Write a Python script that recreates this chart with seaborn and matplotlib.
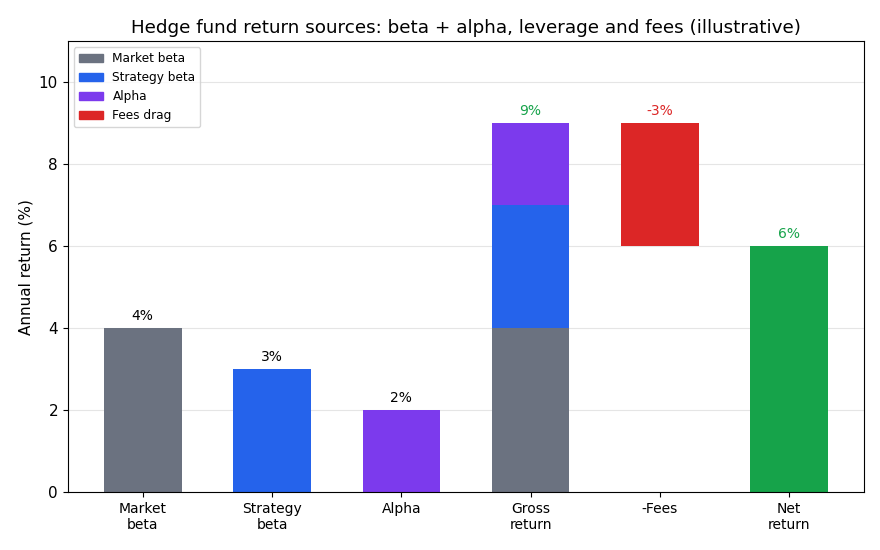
import numpy as np
import seaborn as sns
import matplotlib.pyplot as plt
from matplotlib.patches import Patch

categories = ['Market\nbeta', 'Strategy\nbeta', 'Alpha', 'Gross\nreturn', '-Fees', 'Net\nreturn']
market_beta = [4, 0, 0, 4, 0, 0]
strategy_beta = [0, 3, 0, 3, 0, 0]
alpha = [0, 0, 2, 2, 0, 0]
fees_drag = [0, 0, 0, 0, 3, 0]
fees_base = [0, 0, 0, 0, 6, 0]
net_return = [0, 0, 0, 0, 0, 6]
labels = ['4%', '3%', '2%', '9%', '-3%', '6%']
label_tops = [4, 3, 2, 9, 9, 6]

c_market = '#6b7280'
c_strategy = '#2563eb'
c_alpha = '#7c3aed'
c_fees = '#dc2626'
c_net = '#16a34a'
label_colors = ['black', 'black', 'black', c_net, c_fees, c_net]

fig, ax = plt.subplots(figsize=(8.8, 5.5), dpi=100)
ax.set_axisbelow(True)
ax.grid(axis='y', color='#e5e5e5', linewidth=0.8)

sns.barplot(x=categories, y=market_beta, color=c_market, width=0.6, ax=ax, saturation=1)
x = np.arange(len(categories))
b1 = np.array(market_beta)
ax.bar(x, strategy_beta, bottom=b1, width=0.6, color=c_strategy)
b2 = b1 + np.array(strategy_beta)
ax.bar(x, alpha, bottom=b2, width=0.6, color=c_alpha)
ax.bar(x, fees_drag, bottom=fees_base, width=0.6, color=c_fees)
ax.bar(x, net_return, width=0.6, color=c_net)

for xi, top, lab, col in zip(x, label_tops, labels, label_colors):
    ax.text(xi, top + 0.13, lab, ha='center', va='bottom', fontsize=10, color=col)

ax.set_xlim(-0.58, 5.58)
ax.set_ylim(0, 11)
ax.set_ylabel('Annual return (%)', fontsize=11)
ax.set_title('Hedge fund return sources: beta + alpha, leverage and fees (illustrative)', fontsize=13.2)
ax.tick_params(axis='x', labelsize=10)
ax.tick_params(axis='y', labelsize=11)

handles = [Patch(color=c_market, label='Market beta'),
           Patch(color=c_strategy, label='Strategy beta'),
           Patch(color=c_alpha, label='Alpha'),
           Patch(color=c_fees, label='Fees drag')]
ax.legend(handles=handles, loc='upper left', fontsize=8.7)

fig.subplots_adjust(left=0.077, right=0.982, top=0.925, bottom=0.105)
fig.savefig('out.png', dpi=100)
